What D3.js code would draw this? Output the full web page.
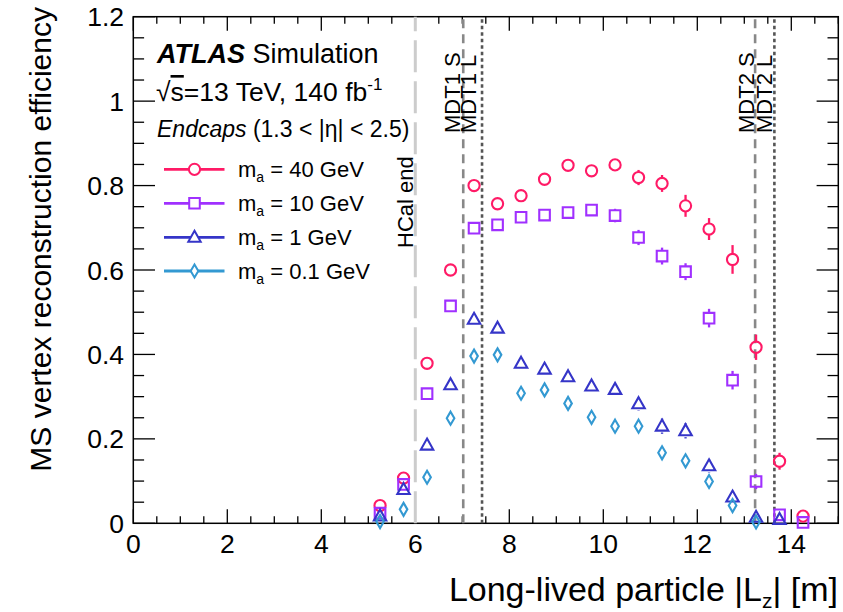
<!DOCTYPE html>
<html><head><meta charset="utf-8">
<script src="https://cdn.jsdelivr.net/npm/d3@7"></script>
<style>
body{margin:0;background:#fff;}
text{font-family:"Liberation Sans",Arial,Helvetica,sans-serif;fill:#000;}
</style></head>
<body>
<svg id="chart" width="843" height="612"></svg>
<script>
// ---- data ----
const binCenters = [5.25,5.75,6.25,6.75,7.25,7.75,8.25,8.75,9.25,9.75,10.25,10.75,11.25,11.75,12.25,12.75,13.25,13.75,14.25];
const eff40  = [0.042,0.107,0.379,0.600,0.800,0.757,0.776,0.815,0.848,0.835,0.849,0.819,0.805,0.752,0.697,0.625,0.417,0.147,0.017];
const err40  = [0.010,0.012,0.012,0.012,0.012,0.012,0.012,0.012,0.012,0.012,0.012,0.018,0.020,0.026,0.026,0.034,0.030,0.020,0.012];
const eff10  = [0.024,0.092,0.307,0.515,0.699,0.707,0.725,0.730,0.736,0.742,0.729,0.677,0.633,0.596,0.486,0.339,0.099,0.020,0.002];
const err10  = [0.008,0.010,0.010,0.010,0.012,0.012,0.012,0.012,0.012,0.012,0.016,0.018,0.020,0.020,0.022,0.022,0.018,0.010,0.005];
const eff1   = [0.017,0.080,0.185,0.328,0.483,0.462,0.379,0.365,0.347,0.325,0.317,0.283,0.230,0.219,0.136,0.062,0.014,0.009];
const err1   = [0.006,0.010,0.012,0.012,0.014,0.014,0.012,0.012,0.012,0.012,0.014,0.016,0.018,0.018,0.016,0.014,0.010,0.008];
const eff01  = [0.004,0.033,0.109,0.249,0.396,0.399,0.308,0.316,0.284,0.251,0.230,0.230,0.167,0.148,0.099,0.042,0.003];
const err01  = [0.004,0.008,0.010,0.012,0.012,0.012,0.012,0.012,0.012,0.012,0.012,0.012,0.012,0.012,0.010,0.010,0.004];
const seriesNames = ["40 GeV","10 GeV","1 GeV","0.1 GeV"];
const seriesColors = ["#ff1a66","#a030ff","#3535c8","#3399d2"];
const seriesMarkers = ["circle","square","triangle","diamond"];
const detectorLines = [
  {x:6.0,  label:"HCal end", kind:"hcal"},
  {x:7.02, label:"MDT1 S",   kind:"S"},
  {x:7.42, label:"MDT1 L",   kind:"L"},
  {x:13.23,label:"MDT2 S",   kind:"S"},
  {x:13.64,label:"MDT2 L",   kind:"L"}
];
const xTicks = [0,2,4,6,8,10,12,14];
const yTicks = [0,0.2,0.4,0.6,0.8,1,1.2];
const yTickLabels = ["0","0.2","0.4","0.6","0.8","1","1.2"];

// ---- layout ----
const L=133.3, R=838.3, T=16.7, B=523.3;
const svg = d3.select("#chart");
const x = d3.scaleLinear().domain([0,15]).range([L,R]);
const y = d3.scaleLinear().domain([0,1.2]).range([B,T]);

// axes (ticks on all sides, inward)
const xMinor = d3.range(0,15.01,0.5);
const yMinor = d3.range(0,1.2001,0.05);
const gAx = svg.append("g").attr("stroke","#000").attr("stroke-width",1.3);
xMinor.forEach(v=>{
  const major = Math.abs(v/2-Math.round(v/2))<1e-6;
  const len = major?14:7;
  gAx.append("line").attr("x1",x(v)).attr("x2",x(v)).attr("y1",B).attr("y2",B-len);
  gAx.append("line").attr("x1",x(v)).attr("x2",x(v)).attr("y1",T).attr("y2",T+len);
});
yMinor.forEach(v=>{
  const major = Math.abs(v/0.2-Math.round(v/0.2))<1e-6;
  const len = major?21.7:10.8;
  gAx.append("line").attr("x1",L).attr("x2",L+len).attr("y1",y(v)).attr("y2",y(v));
  gAx.append("line").attr("x1",R).attr("x2",R-len).attr("y1",y(v)).attr("y2",y(v));
});
svg.append("rect").attr("x",L).attr("y",T).attr("width",R-L).attr("height",B-T)
  .attr("fill","none").attr("stroke","#000").attr("stroke-width",1.5);

// tick labels
svg.append("g").selectAll("text").data(xTicks).join("text")
  .attr("x",d=>x(d)).attr("y",553).attr("text-anchor","middle")
  .attr("font-size",26.5).text(d=>d);
svg.append("g").selectAll("text").data(yTicks).join("text")
  .attr("x",124).attr("y",d=>y(d)+9.5).attr("text-anchor","end")
  .attr("font-size",26.5).text((d,i)=>yTickLabels[i]);

// axis titles
const xt = svg.append("text").attr("x",838).attr("y",601).attr("text-anchor","end").attr("font-size",34);
xt.append("tspan").text("Long-lived particle |L");
xt.append("tspan").attr("font-size",21).attr("dy",7).text("z");
xt.append("tspan").attr("dy",-7).text("| [m]");
svg.append("text").attr("transform","translate(51,7) rotate(-90)").attr("text-anchor","end")
  .attr("font-size",30).text("MS vertex reconstruction efficiency");

// detector lines
const lineStyle = {hcal:{c:"#cccccc",w:3,d:"32,9"}, S:{c:"#888888",w:2.6,d:"9,6"}, L:{c:"#555555",w:2.6,d:"3.5,3"}};
detectorLines.forEach(dl=>{
  const s = lineStyle[dl.kind];
  svg.append("line").attr("x1",x(dl.x)).attr("x2",x(dl.x)).attr("y1",B).attr("y2",T)
    .attr("stroke",s.c).attr("stroke-width",s.w).attr("stroke-dasharray",s.d);
});
const labelPos = [{xb:413,yb:248},{xb:460,yb:133},{xb:476,yb:133},{xb:754,yb:133},{xb:772,yb:133}];
detectorLines.forEach((dl,i)=>{
  svg.append("text").attr("transform",`translate(${labelPos[i].xb},${labelPos[i].yb}) rotate(-90)`)
    .attr("font-size",22).text(dl.label);
});

// markers
function markerPath(type, cx, cy){
  const p = d3.path();
  if(type==="circle"){ p.arc(cx,cy,5.6,0,2*Math.PI); }
  else if(type==="square"){ p.rect(cx-5.3,cy-5.3,10.6,10.6); }
  else if(type==="triangle"){ p.moveTo(cx,cy-6.6); p.lineTo(cx+6.2,cy+4.4); p.lineTo(cx-6.2,cy+4.4); p.closePath(); }
  else { p.moveTo(cx,cy-6.5); p.lineTo(cx+3.8,cy); p.lineTo(cx,cy+6.5); p.lineTo(cx-3.8,cy); p.closePath(); }
  return p.toString();
}
const markerHalf = {circle:5.6,square:5.3,triangle:6.3,diamond:6.5};
const allEff = [eff40,eff10,eff1,eff01];
const allErr = [err40,err10,err1,err01];
allEff.forEach((vals,si)=>{
  const g = svg.append("g");
  const col = seriesColors[si], mk = seriesMarkers[si];
  vals.forEach((v,i)=>{
    const cx = x(binCenters[i]), cy = y(v);
    const hi = y(v+allErr[si][i]), lo = y(Math.max(0,v-allErr[si][i]));
    const h = markerHalf[mk];
    if(cy-hi>h) g.append("line").attr("x1",cx).attr("x2",cx).attr("y1",cy-h).attr("y2",hi).attr("stroke",col).attr("stroke-width",2.3);
    if(lo-cy>h) g.append("line").attr("x1",cx).attr("x2",cx).attr("y1",cy+h).attr("y2",lo).attr("stroke",col).attr("stroke-width",2.3);
    g.append("path").attr("d",markerPath(mk,cx,cy)).attr("fill","none").attr("stroke",col).attr("stroke-width",2.1);
  });
});

// ATLAS labels
const t1 = svg.append("text").attr("x",157).attr("y",63).attr("font-size",27);
t1.append("tspan").attr("font-weight","bold").attr("font-style","italic").text("ATLAS");
t1.append("tspan").text(" Simulation");
const t2 = svg.append("text").attr("x",156).attr("y",101).attr("font-size",26.5);
t2.append("tspan").text("√");
t2.append("tspan").attr("text-decoration","overline").text("s");
t2.append("tspan").text("=13 TeV, 140 fb");
t2.append("tspan").attr("font-size",17).attr("dy",-11).text("-1");
const t3 = svg.append("text").attr("x",157).attr("y",137).attr("font-size",23);
t3.append("tspan").attr("font-style","italic").text("Endcaps");
t3.append("tspan").text(" (1.3 < |η| < 2.5)");

// legend
const legY = [169.3,203.3,237.3,271];
seriesNames.forEach((n,i)=>{
  const col = seriesColors[i];
  svg.append("line").attr("x1",164).attr("x2",224.5).attr("y1",legY[i]).attr("y2",legY[i])
    .attr("stroke",col).attr("stroke-width",2.8);
  svg.append("path").attr("d",markerPath(seriesMarkers[i],194.5,legY[i])).attr("fill","#fff")
    .attr("stroke",col).attr("stroke-width",2);
  const t = svg.append("text").attr("x",238).attr("y",legY[i]+8).attr("font-size",22);
  t.append("tspan").text("m");
  t.append("tspan").attr("font-size",14).attr("dy",5).text("a");
  t.append("tspan").attr("dy",-5).text(" = "+n);
});
</script>
</body></html>
